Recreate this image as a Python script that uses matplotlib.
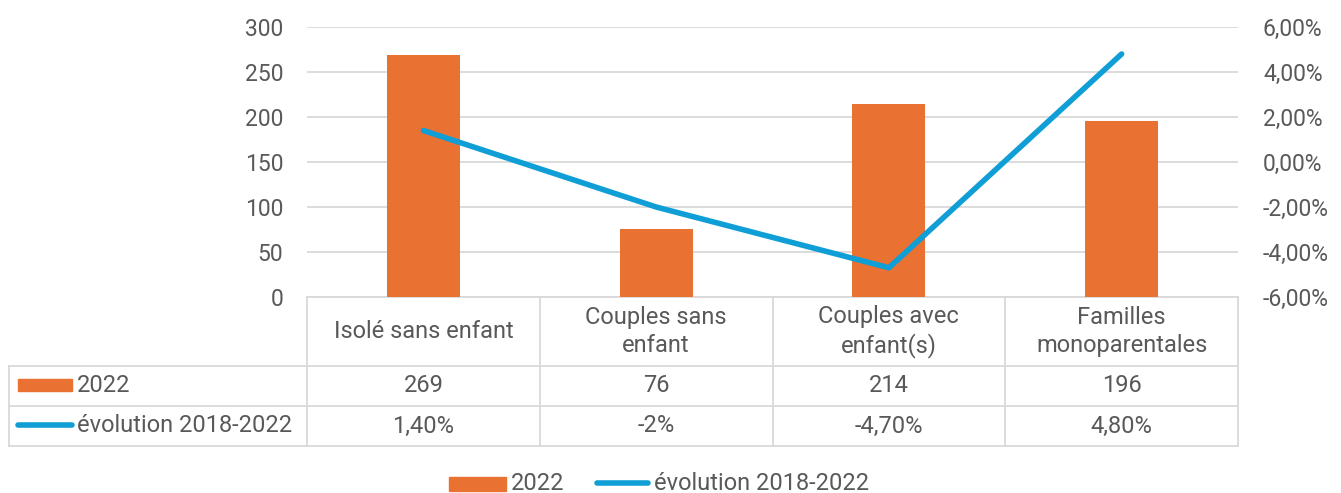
import matplotlib
matplotlib.use("Agg")
import matplotlib.pyplot as plt
import matplotlib.transforms as mtransforms
from matplotlib.lines import Line2D
from matplotlib.patches import Rectangle
from matplotlib.ticker import FuncFormatter, MultipleLocator

# --- data ---
categories = ["Isolé sans enfant", "Couples sans\nenfant", "Couples avec\nenfant(s)", "Familles\nmonoparentales"]
counts_2022 = [269, 76, 214, 196]
evolution_labels = ["1,40%", "-2%", "-4,70%", "4,80%"]
evolution_pct = [1.40, -2.0, -4.70, 4.80]
series_names = ["2022", "évolution 2018-2022"]

ORANGE = "#E97132"
BLUE = "#0F9ED5"
TEXT = "#595959"
GRID = "#D9D9D9"
FONT = "Roboto"
FS = 17        # table and legend text
FS_TICK = 16.5 # axis tick labels

plt.rcParams["font.family"] = [FONT, "DejaVu Sans"]

fig = plt.figure(figsize=(13.41, 4.93), dpi=100)
W, H = 1341, 493
left, right, top, bottom = 307, 1238, 27, 297
ax = fig.add_axes([left / W, 1 - bottom / H, (right - left) / W, (bottom - top) / H])
ax2 = ax.twinx()

x = list(range(len(categories)))
ax.bar(x, counts_2022, width=0.314, color=ORANGE, zorder=3)
ax.set_xlim(-0.5, len(categories) - 0.5)
ax.set_ylim(0, 300)
ax.yaxis.set_major_locator(MultipleLocator(50))
ax.grid(axis="y", color=GRID, linewidth=1.3, zorder=0)
ax.set_axisbelow(True)
ax.set_xticks([])

ax2.plot(x, evolution_pct, color=BLUE, linewidth=4.0, solid_capstyle="round",
         solid_joinstyle="miter", zorder=4)
ax2.set_ylim(-6, 6)
ax2.yaxis.set_major_locator(MultipleLocator(2))
ax2.yaxis.set_major_formatter(FuncFormatter(lambda v, p: f"{v:.2f}%".replace(".", ",")))

for a in (ax, ax2):
    for s in a.spines.values():
        s.set_visible(False)
    a.tick_params(axis="y", length=0, labelsize=FS_TICK, labelcolor=TEXT)
ax.tick_params(axis="y", pad=17)
ax2.tick_params(axis="y", pad=18)
ax.set_zorder(ax2.get_zorder() - 1)
ax2.patch.set_visible(False)

# --- data table under the plot ---
tr = mtransforms.blended_transform_factory(ax.transData, ax.transAxes)
ph = bottom - top
def yfrac(py):
    return (bottom - py) / ph

y_hdr_top, y_hdr_bot, y_r1_bot, y_r2_bot = yfrac(297), yfrac(366), yfrac(406), yfrac(446)
cat_w = (right - left) / len(categories)
x_tab_left = (9 - left) / cat_w - 0.5
x_end = len(categories) - 0.5

def hline(x0, x1, y):
    ax.add_line(Line2D([x0, x1], [y, y], transform=tr, color=GRID, lw=1.3, clip_on=False))

def vline(xv, y0, y1):
    ax.add_line(Line2D([xv, xv], [y0, y1], transform=tr, color=GRID, lw=1.3, clip_on=False))

hline(-0.5, x_end, y_hdr_top)
for yy in (y_hdr_bot, y_r1_bot, y_r2_bot):
    hline(x_tab_left, x_end, yy)
for i in range(len(categories) + 1):
    vline(i - 0.5, y_hdr_top, y_r2_bot)
vline(x_tab_left, y_hdr_bot, y_r2_bot)

y_hdr_mid = (y_hdr_top + y_hdr_bot) / 2
y_r1_mid = (y_hdr_bot + y_r1_bot) / 2
y_r2_mid = (y_r1_bot + y_r2_bot) / 2
for i, cat in enumerate(categories):
    ax.text(i, y_hdr_mid, cat, transform=tr, ha="center", va="center", fontsize=FS,
            color=TEXT, linespacing=1.25, clip_on=False)
    ax.text(i, y_r1_mid, f"{counts_2022[i]}", transform=tr, ha="center", va="center",
            fontsize=FS, color=TEXT, clip_on=False)
    ax.text(i, y_r2_mid, evolution_labels[i], transform=tr, ha="center", va="center",
            fontsize=FS, color=TEXT, clip_on=False)

# row keys (figure pixel coordinates)
ftr = fig.transFigure
def fx(px):
    return px / W
def fy(py):
    return 1 - py / H

fig.patches.append(Rectangle((fx(18), fy(391)), (72 - 18) / W, 12 / H, transform=ftr,
                             color=ORANGE, figure=fig))
fig.lines.append(Line2D([fx(18), fx(72)], [fy(425), fy(425)], transform=ftr, color=BLUE,
                        lw=4.0, solid_capstyle="round", figure=fig))
fig.text(fx(77), fy(385), series_names[0], ha="left", va="center", fontsize=FS, color=TEXT)
fig.text(fx(77), fy(425), series_names[1], ha="left", va="center", fontsize=FS, color=TEXT)

# legend
fig.patches.append(Rectangle((fx(449), fy(491)), (506 - 449) / W, 14 / H, transform=ftr,
                             color=ORANGE, figure=fig))
fig.lines.append(Line2D([fx(597), fx(648)], [fy(483), fy(483)], transform=ftr, color=BLUE,
                        lw=4.0, solid_capstyle="round", figure=fig))
fig.text(fx(511), fy(483), series_names[0], ha="left", va="center", fontsize=FS, color=TEXT)
fig.text(fx(654), fy(483), series_names[1], ha="left", va="center", fontsize=FS, color=TEXT)

fig.savefig("out.png", dpi=100, facecolor="white")
